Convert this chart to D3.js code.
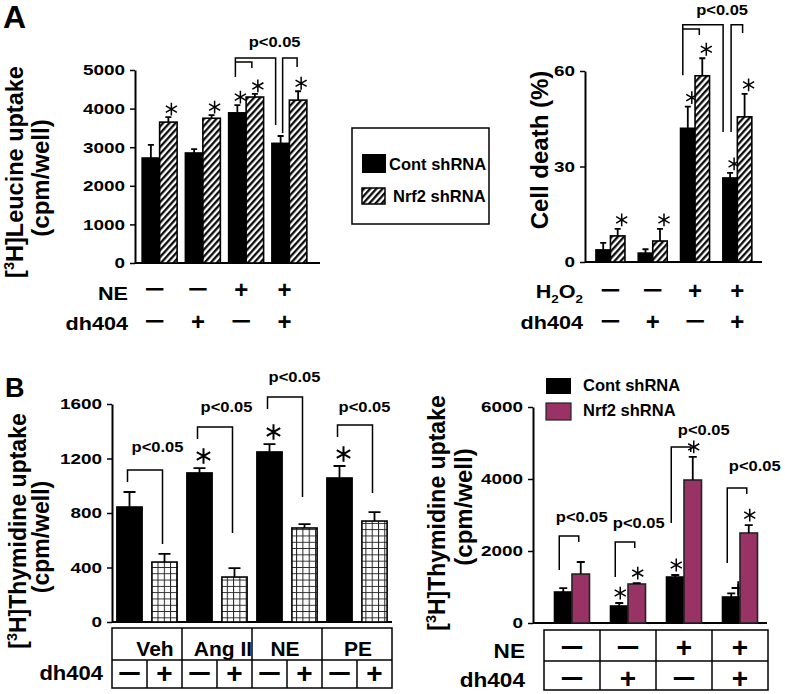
<!DOCTYPE html>
<html>
<head>
<meta charset="utf-8">
<script src="https://cdn.jsdelivr.net/npm/d3@7"></script>
<style>
  body { margin: 0; background: #fff; }
</style>
</head>
<body>
<div id="fig"></div>
<script>
// ---- DATA ----
// Panel A left: [3H]Leucine uptake
const leucineRowNE = ["−", "−", "+", "+"];
const leucineRowDh = ["−", "+", "−", "+"];
const leucineCont = [2720, 2850, 3890, 3100];
const leucineContErr = [340, 100, 200, 190];
const leucineNrf2 = [3650, 3750, 4300, 4220];
const leucineNrf2Err = [130, 80, 80, 230];
const leucineTicks = [0, 1000, 2000, 3000, 4000, 5000];
const leucineStarCont = [false, false, true, false];
const leucineStarNrf2 = [true, true, true, true];

// Panel A right: cell death
const deathRowH2O2 = ["−", "−", "+", "+"];
const deathRowDh = ["−", "+", "−", "+"];
const deathCont = [3.8, 2.8, 42, 26.4];
const deathContErr = [2.2, 1.2, 6.8, 1.6];
const deathNrf2 = [8.2, 6.6, 58.5, 45.6];
const deathNrf2Err = [2.2, 3.8, 5.5, 7.2];
const deathTicks = [0, 30, 60];
const deathStarCont = [false, false, true, true];
const deathStarNrf2 = [true, true, true, true];

// Panel B left: [3H]Thymidine uptake by agonist
const agonists = ["Veh", "Ang II", "NE", "PE"];
const thyNoDh = [844, 1094, 1248, 1057];
const thyNoDhErr = [110, 36, 58, 88];
const thyDh = [440, 330, 690, 741];
const thyDhErr = [60, 66, 29, 66];
const thyTicks = [0, 400, 800, 1200, 1600];
const thyStarNoDh = [false, true, true, true];
const thyStarDh = [false, false, false, false];

// Panel B right: [3H]Thymidine uptake, shRNA
const shRowNE = ["−", "−", "+", "+"];
const shRowDh = ["−", "+", "−", "+"];
const shCont = [861, 472, 1277, 722];
const shContErr = [109, 83, 56, 100];
const shNrf2 = [1360, 1083, 3972, 2500];
const shNrf2Err = [334, 27, 640, 220];
const shTicks = [0, 2000, 4000, 6000];
const shStarCont = [false, true, true, false];
const shStarNrf2 = [false, true, true, true];
const shDaggerCont = [false, false, false, true];

const FONT = '"Liberation Sans", Arial, Helvetica, sans-serif';
const PURPLE = "#993366";

const svg = d3.select("#fig").append("svg")
    .attr("width", 785)
    .attr("height", 694)
    .attr("font-family", FONT);

// patterns
const defs = svg.append("defs");
const hatch = defs.append("pattern")
    .attr("id", "hatch")
    .attr("patternUnits", "userSpaceOnUse")
    .attr("width", 4.6).attr("height", 4.6)
    .attr("patternTransform", "rotate(42)");
hatch.append("rect").attr("width", 4.6).attr("height", 4.6).attr("fill", "#fff");
hatch.append("line").attr("x1", 1.2).attr("y1", 0).attr("x2", 1.2).attr("y2", 4.6)
    .attr("stroke", "#000").attr("stroke-width", 2.2);

const grid = defs.append("pattern")
    .attr("id", "grid")
    .attr("patternUnits", "userSpaceOnUse")
    .attr("width", 6.3).attr("height", 6.3);
grid.append("rect").attr("width", 6.3).attr("height", 6.3).attr("fill", "#fff");
grid.append("path").attr("d", "M0,0.5H6.3M0.5,0V6.3").attr("stroke", "#222").attr("stroke-width", 1);

// text helper
function label(x, y, str, size, opt = {}) {
    let tr = `translate(${x},${y})`;
    if (opt.rot) tr += ` rotate(${opt.rot})`;
    if (opt.sx) tr += ` scale(${opt.sx},1)`;
    const t = svg.append("text")
        .attr("transform", tr)
        .attr("text-anchor", opt.anchor || "start")
        .attr("font-size", size)
        .attr("font-weight", "bold")
        .attr("fill", "#000");
    if (opt.baseline) t.attr("dominant-baseline", opt.baseline);
    if (str !== null) t.text(str);
    return t;
}

// text with a raised / lowered small part: parts = [[text, shift], ...]
function richLabel(x, y, parts, size, opt = {}) {
    const t = label(x, y, null, size, opt);
    let cur = 0;
    parts.forEach(([s, shift]) => {
        t.append("tspan")
            .attr("dy", shift - cur)
            .attr("font-size", shift === 0 ? size : size * 0.62)
            .text(s);
        cur = shift;
    });
    return t;
}

function drawPanel(p) {
    const n = p.series[0].v.length;
    const y = d3.scaleLinear().domain(p.domain).range(p.yRange);
    const gx = d3.scaleBand().domain(d3.range(n)).range(p.groupRange).paddingInner(0);
    const ix = d3.scaleBand().domain([0, 1]).range([0, gx.bandwidth()])
        .paddingInner(p.innerPad[0]).paddingOuter(p.innerPad[1]);
    const cx = (g, s) => gx(g) + ix(s) + ix.bandwidth() / 2;

    // y axis
    const ax = svg.append("g")
        .attr("transform", `translate(${p.axisX},0)`)
        .call(d3.axisLeft(y).tickValues(p.ticks).tickSize(5).tickSizeOuter(0).tickPadding(5)
            .tickFormat(d3.format("d")));
    ax.attr("font-family", FONT).attr("font-size", 15.5);
    ax.select(".domain").attr("stroke-width", 2);
    ax.selectAll(".tick line").attr("stroke-width", 1.5);
    ax.selectAll(".tick text")
        .attr("font-weight", "bold")
        .attr("fill", "#000")
        .each(function () {
            const t = d3.select(this);
            const x = +t.attr("x");
            t.attr("x", 0).attr("transform", `translate(${x},0) scale(1.22,1)`);
        });

    // x axis baseline
    svg.append("line")
        .attr("x1", p.axisX).attr("x2", p.xEnd)
        .attr("y1", y(0)).attr("y2", y(0))
        .attr("stroke", "#000").attr("stroke-width", 2);

    // bars, error bars, stars
    p.series.forEach((s, si) => {
        const g = svg.append("g");
        g.selectAll("rect").data(s.v).join("rect")
            .attr("x", (d, i) => gx(i) + ix(si))
            .attr("y", d => y(d))
            .attr("width", ix.bandwidth())
            .attr("height", d => y(0) - y(d))
            .attr("fill", s.fill)
            .attr("stroke", s.stroke || "#000")
            .attr("stroke-width", 1.6);

        g.selectAll("path.err").data(s.v).join("path")
            .attr("class", "err")
            .attr("d", (d, i) => {
                const x = cx(i, si), top = y(d + s.e[i]);
                return `M${x},${y(d)}V${top}M${x - p.cap / 2},${top}H${x + p.cap / 2}`;
            })
            .attr("fill", "none")
            .attr("stroke", "#000")
            .attr("stroke-width", 1.8);

        const star = d3.symbol(d3.symbolAsterisk, p.starSize);
        g.selectAll("path.star").data(s.v.map((d, i) => ({ d, i })).filter(o => s.star[o.i])).join("path")
            .attr("class", "star")
            .attr("transform", o => `translate(${cx(o.i, si) + p.starDx},${y(o.d + s.e[o.i]) - p.starDy})`)
            .attr("d", star)
            .attr("fill", "none")
            .attr("stroke", "#000")
            .attr("stroke-width", p.starWidth);

        if (s.dagger) {
            const plus = d3.symbol(d3.symbolPlus, 60);
            s.v.forEach((d, i) => {
                if (!s.dagger[i]) return;
                const x = cx(i, si) + 7;
                g.append("path")
                    .attr("d", `M${x},${y(d)}V${y(d) - 13}`)
                    .attr("stroke", "#000").attr("stroke-width", 1.8);
                g.append("path")
                    .attr("transform", `translate(${x},${y(d) - 9})`)
                    .attr("d", plus)
                    .attr("fill", "none").attr("stroke", "#000").attr("stroke-width", 1.8);
            });
        }
    });

    // significance brackets
    const bx = a => cx(a[0], a[1]) + a[2];
    p.brackets.forEach(b => {
        svg.append("path")
            .attr("d", `M${bx(b.a)},${y(b.ya)}V${y(b.top)}H${bx(b.b)}V${y(b.yb)}`)
            .attr("fill", "none")
            .attr("stroke", "#000")
            .attr("stroke-width", 1.5);
    });
    p.pTexts.forEach(t => {
        label(bx(t.at), y(t.v), "p<0.05", 15, { anchor: "middle", sx: 1.1 });
    });

    return { y, gx, ix, cx };
}

// sign helper for the condition rows
function sign(x, y, s, size) {
    label(x, y, s, size, { anchor: "middle", baseline: "central", sx: s === "+" ? 1 : 1.45 });
}

// ---------------- Panel A left ----------------
const pA1 = drawPanel({
    domain: [0, 5000], yRange: [263, 70], ticks: leucineTicks,
    axisX: 135, xEnd: 320, groupRange: [138, 311], innerPad: [0, 0.237],
    cap: 6, starSize: 115, starDx: 3, starDy: 8, starWidth: 1.5,
    series: [
        { v: leucineCont, e: leucineContErr, fill: "#000", star: leucineStarCont },
        { v: leucineNrf2, e: leucineNrf2Err, fill: "url(#hatch)", star: leucineStarNrf2 }
    ],
    brackets: [
        { a: [2, 0, -2], b: [3, 0, -5], top: 5311, ya: 4819, yb: 3575 },
        { a: [2, 0, -2], b: [2, 1, -3], top: 5207, ya: 5207, yb: 5052 },
        { a: [3, 0, 2], b: [3, 1, -1], top: 5311, ya: 3368, yb: 5078 }
    ],
    pTexts: [{ at: [3, 0, -6], v: 5596 }]
});
leucineRowNE.forEach((s, i) => sign(pA1.gx(i) + pA1.gx.bandwidth() / 2 - 5, 289, s, 24));
leucineRowDh.forEach((s, i) => sign(pA1.gx(i) + pA1.gx.bandwidth() / 2 - 5, 321, s, 24));
label(128, 300, "NE", 18, { anchor: "end", sx: 1.2 });
label(128, 330, "dh404", 18, { anchor: "end", sx: 1.2 });
richLabel(23, 172, [["[", 0], ["3", -9], ["H]Leucine uptake", 0]], 23.5, { rot: -90, anchor: "middle" });
label(49, 178, "(cpm/well)", 24, { rot: -90, anchor: "middle" });
label(3, 28, "A", 32);

// ---------------- Legend A ----------------
svg.append("rect").attr("x", 352).attr("y", 128).attr("width", 137).attr("height", 96)
    .attr("fill", "#fff").attr("stroke", "#000").attr("stroke-width", 1.5);
svg.append("rect").attr("x", 362).attr("y", 154).attr("width", 24).attr("height", 19)
    .attr("fill", "#000");
svg.append("rect").attr("x", 362).attr("y", 188).attr("width", 23).attr("height", 16)
    .attr("fill", "url(#hatch)").attr("stroke", "#000").attr("stroke-width", 1.5);
label(389, 170, "Cont shRNA", 16.5);
label(393, 202, "Nrf2 shRNA", 16.5);

// ---------------- Panel A right ----------------
const pA2 = drawPanel({
    domain: [0, 60], yRange: [262, 71], ticks: deathTicks,
    axisX: 585, xEnd: 762, groupRange: [589.3, 758.5], innerPad: [0, 0.459],
    cap: 6, starSize: 115, starDx: 4, starDy: 9, starWidth: 1.5,
    series: [
        { v: deathCont, e: deathContErr, fill: "#000", star: deathStarCont },
        { v: deathNrf2, e: deathNrf2Err, fill: "url(#hatch)", star: deathStarNrf2 }
    ],
    brackets: [
        { a: [2, 0, -5], b: [3, 0, -7], top: 74.5, ya: 58.7, yb: 40.8 },
        { a: [2, 0, -5], b: [2, 1, -3], top: 73.2, ya: 73.2, yb: 71.3 },
        { a: [3, 0, 1], b: [3, 1, -2], top: 74.5, ya: 40.8, yb: 71.9 }
    ],
    pTexts: [{ at: [3, 0, -8], v: 77.6 }]
});
deathRowH2O2.forEach((s, i) => sign(pA2.gx(i) + pA2.gx.bandwidth() / 2, 290, s, 24));
deathRowDh.forEach((s, i) => sign(pA2.gx(i) + pA2.gx.bandwidth() / 2, 321, s, 24));
richLabel(583, 298, [["H", 0], ["2", 5], ["O", 0], ["2", 5]], 18, { anchor: "end", sx: 1.2 });
label(583, 329, "dh404", 18, { anchor: "end", sx: 1.2 });
label(548, 150, "Cell death (%)", 24, { rot: -90, anchor: "middle" });

// ---------------- Panel B left ----------------
const pB1 = drawPanel({
    domain: [0, 1600], yRange: [622, 404], ticks: thyTicks,
    axisX: 112, xEnd: 392, groupRange: [112, 392], innerPad: [0.28, 0.14],
    cap: 12, starSize: 170, starDx: 4, starDy: 12, starWidth: 2,
    series: [
        { v: thyNoDh, e: thyNoDhErr, fill: "#000", star: thyStarNoDh },
        { v: thyDh, e: thyDhErr, fill: "url(#grid)", star: thyStarDh }
    ],
    brackets: [
        { a: [0, 0, -2], b: [0, 1, -2], top: 1116, ya: 1028, yb: 572 },
        { a: [1, 0, -2], b: [1, 1, -2], top: 1431, ya: 1343, yb: 653 },
        { a: [2, 0, -2], b: [2, 1, -2], top: 1651, ya: 1563, yb: 917 },
        { a: [3, 0, -2], b: [3, 1, -2], top: 1446, ya: 1358, yb: 947 }
    ],
    pTexts: [
        { at: [0, 1, -7], v: 1248 }, { at: [1, 1, -8], v: 1541 },
        { at: [2, 1, -10], v: 1761 }, { at: [3, 1, -10], v: 1541 }
    ]
});
// condition table
const tB1 = { x0: 112, x1: 392, y0: 628, ym: 660, y1: 688 };
svg.append("rect").attr("x", tB1.x0).attr("y", tB1.y0)
    .attr("width", tB1.x1 - tB1.x0).attr("height", tB1.y1 - tB1.y0)
    .attr("fill", "none").attr("stroke", "#000").attr("stroke-width", 1.5);
svg.append("line").attr("x1", tB1.x0).attr("x2", tB1.x1).attr("y1", tB1.ym).attr("y2", tB1.ym)
    .attr("stroke", "#000").attr("stroke-width", 1.5);
agonists.forEach((a, i) => {
    const g0 = pB1.gx(i), w = pB1.gx.bandwidth();
    if (i > 0) {
        svg.append("line").attr("x1", g0).attr("x2", g0).attr("y1", tB1.y0).attr("y2", tB1.y1)
            .attr("stroke", "#000").attr("stroke-width", 1.5);
    }
    svg.append("line").attr("x1", g0 + w / 2).attr("x2", g0 + w / 2).attr("y1", tB1.ym).attr("y2", tB1.y1)
        .attr("stroke", "#000").attr("stroke-width", 1.5);
    const dx = [8, 6, -2, 1][i];
    label(g0 + w / 2 + dx, 656, a, 20, { anchor: "middle", sx: 1.05 });
    sign(pB1.cx(i, 0), 673, "−", 28);
    sign(pB1.cx(i, 1), 673, "+", 28);
});
label(103, 680, "dh404", 20, { anchor: "end", sx: 1.1 });
richLabel(26, 531, [["[", 0], ["3", -9], ["H]Thymidine uptake", 0]], 23, { rot: -90, anchor: "middle" });
label(49, 537, "(cpm/well)", 23, { rot: -90, anchor: "middle" });
label(5, 397, "B", 27);

// ---------------- Panel B right ----------------
const pB2 = drawPanel({
    domain: [0, 6000], yRange: [623, 407], ticks: shTicks,
    axisX: 533, xEnd: 767, groupRange: [544, 768], innerPad: [0, 0.6],
    cap: 8, starSize: 115, starDx: 1, starDy: 10, starWidth: 1.5,
    series: [
        { v: shCont, e: shContErr, fill: "#000", star: shStarCont, dagger: shDaggerCont },
        { v: shNrf2, e: shNrf2Err, fill: PURPLE, stroke: "#222", star: shStarNrf2 }
    ],
    brackets: [
        { a: [0, 0, -4], b: [0, 1, -2], top: 2417, ya: 1472, yb: 2250 },
        { a: [1, 0, -4], b: [1, 1, -2], top: 2250, ya: 1278, yb: 2083 },
        { a: [2, 0, -4], b: [2, 1, -2], top: 4889, ya: 2778, yb: 4750 },
        { a: [3, 0, -4], b: [3, 1, -2], top: 3750, ya: 1667, yb: 3583 }
    ],
    pTexts: [
        { at: [0, 1, 1], v: 2806 }, { at: [1, 1, 2], v: 2639 },
        { at: [2, 1, 11], v: 5222 }, { at: [3, 1, 6], v: 4222 }
    ]
});
const tB2 = { x0: 544, x1: 768, y0: 630, ym: 661, y1: 690 };
svg.append("rect").attr("x", tB2.x0).attr("y", tB2.y0)
    .attr("width", tB2.x1 - tB2.x0).attr("height", tB2.y1 - tB2.y0)
    .attr("fill", "none").attr("stroke", "#000").attr("stroke-width", 1.5);
svg.append("line").attr("x1", tB2.x0).attr("x2", tB2.x1).attr("y1", tB2.ym).attr("y2", tB2.ym)
    .attr("stroke", "#000").attr("stroke-width", 1.5);
shRowNE.forEach((s, i) => {
    const g0 = pB2.gx(i), w = pB2.gx.bandwidth();
    if (i > 0) {
        svg.append("line").attr("x1", g0).attr("x2", g0).attr("y1", tB2.y0).attr("y2", tB2.y1)
            .attr("stroke", "#000").attr("stroke-width", 1.5);
    }
    sign(g0 + w / 2, 647, s, 28);
    sign(g0 + w / 2, 678, shRowDh[i], 28);
});
label(525, 658, "NE", 20, { anchor: "end", sx: 1.13 });
label(525, 687, "dh404", 20, { anchor: "end", sx: 1.13 });
richLabel(445, 513, [["[", 0], ["3", -9], ["H]Thymidine uptake", 0]], 23, { rot: -90, anchor: "middle" });
label(472, 507, "(cpm/well)", 24, { rot: -90, anchor: "middle" });

// legend B
svg.append("rect").attr("x", 546).attr("y", 378).attr("width", 25).attr("height", 16).attr("fill", "#000");
svg.append("rect").attr("x", 546).attr("y", 403).attr("width", 25).attr("height", 17)
    .attr("fill", PURPLE).attr("stroke", "#222").attr("stroke-width", 1.2);
label(583, 391, "Cont shRNA", 16.5);
label(583, 416, "Nrf2 shRNA", 16.5);
</script>
</body>
</html>
